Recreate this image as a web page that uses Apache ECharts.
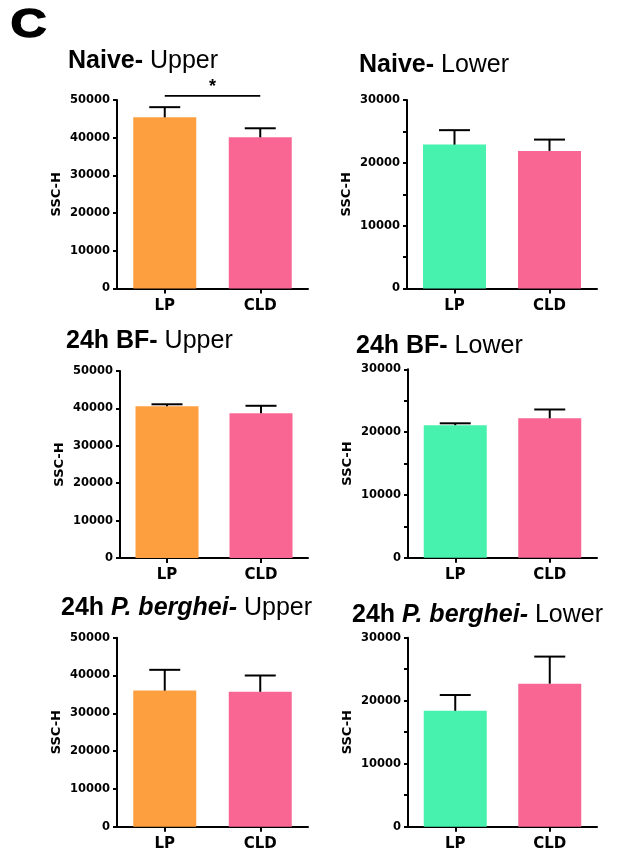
<!DOCTYPE html>
<html><head><meta charset="utf-8">
<script src="https://cdn.jsdelivr.net/npm/echarts@6/dist/echarts.min.js"></script>
<style>html,body{margin:0;padding:0;background:#fff}#c{width:618px;height:856px}</style>
</head><body><div id="c"></div>
<script>
// ---- data ----
const categories = ['LP', 'CLD'];
const naiveUpperMean = [45400, 40100];
const naiveUpperErr  = [2700, 2400];
const naiveLowerMean = [22900, 21900];
const naiveLowerErr  = [2300, 1800];
const bfUpperMean    = [40600, 38700];
const bfUpperErr     = [500, 2000];
const bfLowerMean    = [21100, 22200];
const bfLowerErr     = [300, 1400];
const pbUpperMean    = [36000, 35700];
const pbUpperErr     = [5500, 4300];
const pbLowerMean    = [18400, 22700];
const pbLowerErr     = [2500, 4300];
const upperTicks = [0, 10000, 20000, 30000, 40000, 50000];
const lowerTicks = [0, 10000, 20000, 30000];
const sigFrom = 'LP', sigTo = 'CLD', sigValue = 51100, sigLabel = '*';

// ---- styles ----
const ORANGE = '#FD9F3E', PINK = '#F96693', GREEN = '#46F2AE';
const upperColors = [ORANGE, PINK];
const lowerColors = [GREEN, PINK];

const panels = [
  {t:['Naive-', '', ' Upper'], mean:naiveUpperMean, err:naiveUpperErr, ticks:upperTicks, step:10000, colors:upperColors,
   grid:{left:117, top:100, width:191, height:188.5}, tl:68, tt:49},
  {t:['Naive-', '', ' Lower'], mean:naiveLowerMean, err:naiveLowerErr, ticks:lowerTicks, step:5000, colors:lowerColors,
   grid:{left:407, top:100, width:190, height:188.5}, tl:359, tt:53},
  {t:['24h BF-', '', ' Upper'], mean:bfUpperMean, err:bfUpperErr, ticks:upperTicks, step:10000, colors:upperColors,
   grid:{left:120, top:371, width:188, height:187}, tl:66, tt:328.5},
  {t:['24h BF-', '', ' Lower'], mean:bfLowerMean, err:bfLowerErr, ticks:lowerTicks, step:5000, colors:lowerColors,
   grid:{left:408, top:369.3, width:189, height:188.4}, tl:356, tt:333.5},
  {t:['24h ', 'P. berghei-', ' Upper'], mean:pbUpperMean, err:pbUpperErr, ticks:upperTicks, step:10000, colors:upperColors,
   grid:{left:117, top:637.7, width:191, height:189}, tl:61, tt:595.5},
  {t:['24h ', 'P. berghei-', ' Lower'], mean:pbLowerMean, err:pbLowerErr, ticks:lowerTicks, step:5000, colors:lowerColors,
   grid:{left:408, top:637.7, width:189, height:189}, tl:352, tt:603}
];

const TF = 'Liberation Sans';
const AF = 'DejaVu Sans';
const titleRich = {
  b:{fontFamily:TF, fontWeight:'bold', fontSize:25, color:'#000', lineHeight:25},
  bi:{fontFamily:TF, fontWeight:'bold', fontStyle:'italic', fontSize:25, color:'#000', lineHeight:25},
  r:{fontFamily:TF, fontWeight:'normal', fontSize:25, color:'#000', lineHeight:25}
};

const title = [];
const grid = [], xAxis = [], yAxis = [], series = [];

function errRender(params, api) {
  const base = api.coord([api.value(0), api.value(1)]);
  const top = api.coord([api.value(0), api.value(2)]);
  const hw = 15.5;
  return {type:'group', children:[
    {type:'line', shape:{x1:base[0], y1:base[1], x2:top[0], y2:top[1]}, style:{stroke:'#000', lineWidth:2}},
    {type:'line', shape:{x1:top[0]-hw, y1:top[1], x2:top[0]+hw, y2:top[1]}, style:{stroke:'#000', lineWidth:2}}
  ]};
}

panels.forEach((p, i) => {
  let txt = '';
  if (p.t[0]) txt += '{b|' + p.t[0] + '}';
  if (p.t[1]) txt += '{bi|' + p.t[1] + '}';
  txt += '{r|' + p.t[2] + '}';
  title.push({text:txt, left:p.tl, top:p.tt, padding:0, textStyle:{rich:titleRich}});
  grid.push(Object.assign({outerBoundsMode:'none', containLabel:false}, p.grid));
  xAxis.push({
    gridIndex:i, type:'category', data:categories,
    axisLine:{show:true, lineStyle:{color:'#000', width:2}},
    axisTick:{show:true, alignWithLabel:true, length:5, lineStyle:{color:'#000', width:2}},
    axisLabel:{margin:10, fontFamily:AF, fontWeight:'bold', fontSize:15, color:'#000'},
    splitLine:{show:false}
  });
  const ticks = p.ticks;
  yAxis.push({
    gridIndex:i, type:'value', min:ticks[0], max:ticks[ticks.length-1], interval:p.step,
    axisLine:{show:true, lineStyle:{color:'#000', width:2}},
    axisTick:{show:true, length:4, lineStyle:{color:'#000', width:2}},
    splitLine:{show:false},
    axisLabel:{margin:7, fontFamily:AF, fontWeight:'bold', fontSize:11.5, color:'#000',
      showMinLabel:true, showMaxLabel:true, hideOverlap:false,
      formatter:v => ticks.indexOf(v) >= 0 ? String(v) : ''},
    name:'SSC-H', nameLocation:'middle', nameGap:54, nameRotate:90,
    nameTextStyle:{fontFamily:AF, fontWeight:'bold', fontSize:13, color:'#000'}
  });
  series.push({
    type:'bar', xAxisIndex:i, yAxisIndex:i, barWidth:63, animation:false, z:2,
    data:p.mean.map((v, j) => ({value:v, itemStyle:{color:p.colors[j]}}))
  });
  series.push({
    type:'custom', xAxisIndex:i, yAxisIndex:i, animation:false, z:3, clip:false,
    renderItem:errRender, encode:{x:0, y:[1, 2]},
    data:p.mean.map((v, j) => [j, v, v + p.err[j]])
  });
});

// significance bracket on first panel
series.push({
  type:'custom', xAxisIndex:0, yAxisIndex:0, animation:false, z:4, clip:false,
  encode:{x:[0, 1], y:2},
  data:[[categories.indexOf(sigFrom), categories.indexOf(sigTo), sigValue]],
  renderItem:(params, api) => {
    const a = api.coord([api.value(0), api.value(2)]);
    const b = api.coord([api.value(1), api.value(2)]);
    return {type:'group', children:[
      {type:'line', shape:{x1:a[0], y1:a[1], x2:b[0], y2:b[1]}, style:{stroke:'#000', lineWidth:1.6}},
      {type:'text', x:(a[0]+b[0])/2, y:a[1]-8.5, style:{text:sigLabel, fontFamily:TF, fontWeight:'bold', fontSize:18, fill:'#000', align:'center', verticalAlign:'middle'}}
    ]};
  }
});

const graphic = [{
  type:'text', x:10.5, y:25.5, scaleX:1.25, scaleY:1, z:10,
  style:{text:'C', font:'bold 40px "Liberation Sans"', fill:'#000', stroke:'#000', lineWidth:1.4, align:'left', verticalAlign:'middle'}
}];

const chart = echarts.init(document.getElementById('c'), null, {renderer:'canvas'});
chart.setOption({animation:false, backgroundColor:'#fff', title, grid, xAxis, yAxis, series, graphic, tooltip:{show:false}});
</script>
</body></html>
